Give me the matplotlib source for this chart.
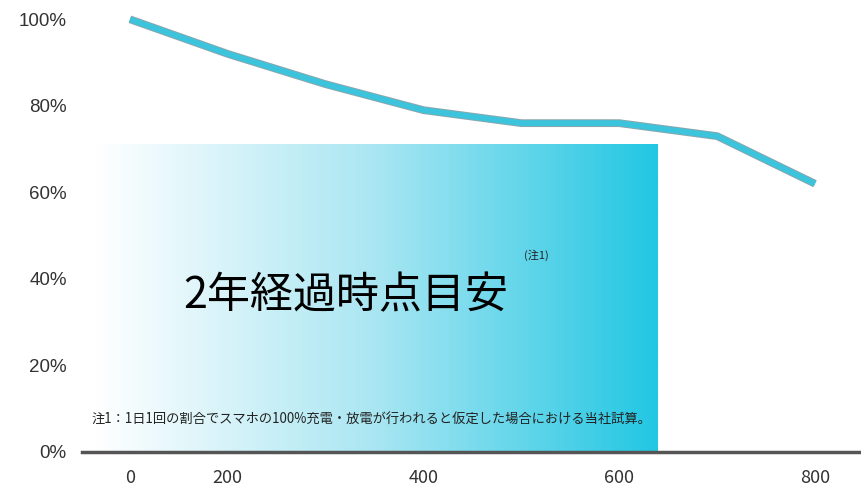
import matplotlib.pyplot as plt
import matplotlib.patheffects as pe
import numpy as np
from matplotlib.colors import LinearSegmentedColormap

plt.rcParams['font.family'] = ['Noto Sans CJK JP', 'DejaVu Sans']

# capacity retention at each point (evenly spaced categories)
capacity = [100, 92, 85, 79, 76, 76, 73, 62]
tick_pos = [0, 1, 3, 5, 7]
tick_labels = ['0', '200', '400', '600', '800']
y_ticks = [0, 20, 40, 60, 80, 100]
y_labels = ['0%', '20%', '40%', '60%', '80%', '100%']

title = '2年経過時点目安'
note_mark = '(注1)'
footnote = '注1：1日1回の割合でスマホの100%充電・放電が行われると仮定した場合における当社試算。'

fig = plt.figure(figsize=(8.61, 4.87), dpi=100)
ax = fig.add_axes([82 / 861, 1 - 452 / 487, 779 / 861, 450 / 487])

x = np.arange(len(capacity))
ax.plot(x, capacity, color='#3cc4dc', linewidth=4.2, solid_capstyle='butt', zorder=3,
        clip_on=False,
        path_effects=[pe.Stroke(linewidth=5.6, foreground='#8aa6ac'), pe.Normal()])

# gradient box
cm = LinearSegmentedColormap.from_list('wc', ['#ffffff', '#a9e6f2', '#22c7e3'])
grad = np.linspace(0, 1, 256).reshape(1, -1)
ax.imshow(grad, cmap=cm, aspect='auto', extent=(-0.36, 5.39, 0, 71), zorder=1,
          interpolation='bilinear')

ax.text(2.2, 36, title, fontsize=31, ha='center', va='center', color='#000000', zorder=4)
ax.text(4.15, 45.5, note_mark, fontsize=8, ha='center', va='center', color='#222222', zorder=4)
ax.text(-0.39, 7.5, footnote, fontsize=9.55, ha='left', va='center', color='#222222', zorder=4)

ax.set_xlim(-0.49, 7.47)
ax.set_ylim(0, 104)
ax.set_xticks(tick_pos)
ax.set_xticklabels(tick_labels, fontsize=13, color='#333333')
ax.set_yticks(y_ticks)
ax.set_yticklabels(y_labels, fontsize=13.5, color='#333333',
                   family=['Liberation Sans', 'DejaVu Sans'])
ax.tick_params(length=0)
ax.tick_params(axis='x', pad=12)
ax.tick_params(axis='y', pad=11)

for s in ['top', 'right', 'left']:
    ax.spines[s].set_visible(False)
ax.spines['bottom'].set_color('#555555')
ax.spines['bottom'].set_linewidth(2.5)

fig.savefig('out.png', dpi=100)
